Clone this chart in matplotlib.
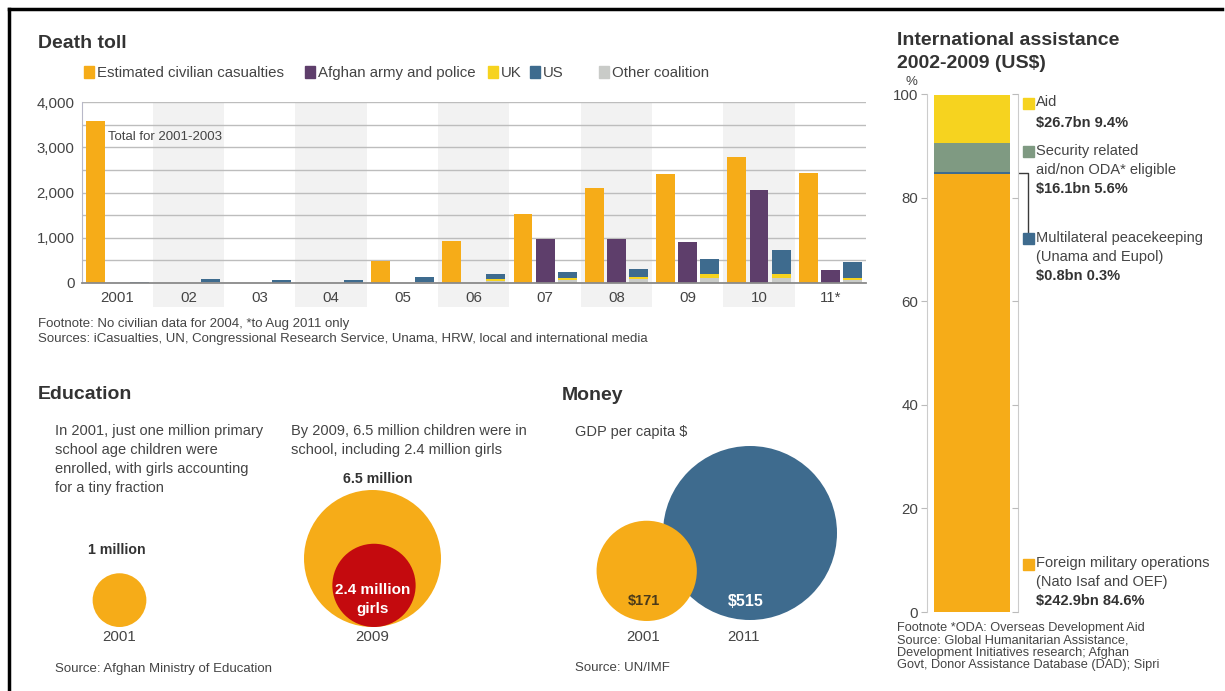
import matplotlib
matplotlib.use("Agg")
import matplotlib.pyplot as plt
import numpy as np
from matplotlib.patches import Rectangle, Circle
from matplotlib.lines import Line2D

plt.rcParams['font.family'] = ['Liberation Sans', 'DejaVu Sans']

# ---------------- data ----------------
year_labels = ["2001", "02", "03", "04", "05", "06", "07", "08", "09", "10", "11*"]
civilian = [3575, 0, 0, 0, 480, 925, 1525, 2100, 2400, 2775, 2420]
afghan = [0, 0, 0, 0, 0, 0, 975, 965, 910, 2050, 280]
other_coal = [0, 15, 10, 10, 30, 50, 75, 90, 105, 100, 60]
uk = [0, 3, 0, 1, 1, 39, 42, 51, 100, 105, 40]
us = [12, 70, 50, 50, 110, 100, 130, 160, 330, 515, 365]
death_yticks = [0, 1000, 2000, 3000, 4000]

assist_labels = ["Foreign military operations", "Multilateral peacekeeping",
                 "Security related", "Aid"]
assist_pct = [84.6, 0.3, 5.6, 9.4]
assist_bn = [242.9, 0.8, 16.1, 26.7]
assist_yticks = [0, 20, 40, 60, 80, 100]

edu_years = ["2001", "2009"]
edu_total = [1.0, 6.5]      # million children enrolled
edu_girls_2009 = 2.4        # million girls

gdp_years = ["2001", "2011"]
gdp_values = [171, 515]     # GDP per capita $

# ---------------- style ----------------
C_CIV = "#F6AC18"
C_AFG = "#5E3E6B"
C_UK = "#F6D31F"
C_US = "#3E6B8E"
C_OTH = "#C9CBC8"
C_SEC = "#7F9A82"
C_RED = "#C40A0E"
C_TXT = "#444444"
C_TTL = "#333333"
C_GRID = "#BDBDBD"
C_SHADE = "#F2F2F2"

F_TITLE = 14
F_BODY = 10.8
F_SMALL = 9.5
F_TICK = 10.8

W, H = 1225, 691
fig = plt.figure(figsize=(W / 100, H / 100), dpi=100)
fig.patch.set_facecolor("white")

# overlay axes in pixel coordinates for text / circles
ov = fig.add_axes([0, 0, 1, 1], zorder=0)
ov.set_xlim(0, W)
ov.set_ylim(H, 0)
ov.axis("off")


def T(x, y, s, size=F_BODY, weight="normal", color=C_TXT, ha="left", va="center", z=5, **kw):
    ov.text(x, y, s, fontsize=size, fontweight=weight, color=color, ha=ha, va=va, zorder=z, **kw)


def px2fig(x0, y0, x1, y1):
    return [x0 / W, 1 - y1 / H, (x1 - x0) / W, (y1 - y0) / H]


# frame lines
ov.add_line(Line2D([9, 1222], [9, 9], color="black", lw=2.5, zorder=10))
ov.add_line(Line2D([9, 9], [9, H], color="black", lw=2.5, zorder=10))

# ---------------- Death toll ----------------
T(38, 43, "Death toll", size=F_TITLE, weight="bold", color=C_TTL)
legend_items = [(84, "Estimated civilian casualties", C_CIV),
                (305, "Afghan army and police", C_AFG),
                (488, "UK", C_UK),
                (530, "US", C_US),
                (599, "Other coalition", C_OTH)]
for x, lab, col in legend_items:
    ov.add_patch(Rectangle((x, 66), 10, 12, color=col, zorder=5))
    T(x + 13, 72.5, lab, size=F_BODY)

ax = fig.add_axes(px2fig(81.5, 102, 866, 283), zorder=2)
xs = np.arange(len(year_labels))
bw = 0.265
off = 0.31
ax.bar(xs - off, civilian, width=bw, color=C_CIV, zorder=3)
ax.bar(xs, afghan, width=bw, color=C_AFG, zorder=3)
b1 = np.array(other_coal)
b2 = b1 + np.array(uk)
ax.bar(xs + off, other_coal, width=bw, color=C_OTH, zorder=3)
ax.bar(xs + off, uk, bottom=b1, width=bw, color=C_UK, zorder=3)
ax.bar(xs + off, us, bottom=b2, width=bw, color=C_US, zorder=3)
for i in range(1, len(xs), 2):
    ax.axvspan(i - 0.5, i + 0.5, ymin=-0.135, ymax=1, color=C_SHADE, zorder=0,
               clip_on=False, lw=0)
ax.set_xlim(-0.5, len(xs) - 0.5)
ax.set_ylim(0, 4000)
ax.set_yticks(death_yticks)
ax.set_yticklabels([f"{v:,}" for v in death_yticks])
ax.set_yticks(np.arange(0, 4001, 500), minor=True)
ax.grid(axis="y", which="both", color=C_GRID, lw=1.0, zorder=1)
ax.set_axisbelow(True)
ax.set_xticks(xs)
ax.set_xticklabels(year_labels)
ax.tick_params(axis="y", length=0, pad=5, labelsize=F_TICK, labelcolor=C_TXT, which="both")
ax.tick_params(axis="x", length=0, pad=6, labelsize=F_TICK, labelcolor=C_TXT)
ax.patch.set_alpha(0)
for s in ["top", "right"]:
    ax.spines[s].set_visible(False)
ax.spines["left"].set_color("#B8B8C8")
ax.spines["bottom"].set_color("#8A8A8A")
ax.spines["bottom"].set_linewidth(1.3)
ax.spines["bottom"].set_zorder(4)
ax.text(-0.5 + 26.5 / 71.3, 3220, "Total for 2001-2003", fontsize=F_SMALL, color=C_TXT,
        va="center", ha="left", zorder=4)

T(38, 324, "Footnote: No civilian data for 2004, *to Aug 2011 only", size=F_SMALL)
T(38, 339, "Sources: iCasualties, UN, Congressional Research Service, Unama, HRW, local and international media", size=F_SMALL)

# ---------------- International assistance ----------------
T(897, 40, "International assistance", size=F_TITLE, weight="bold", color=C_TTL)
T(897, 63, "2002-2009 (US$)", size=F_TITLE, weight="bold", color=C_TTL)
T(911, 82, "%", size=9.5, ha="center")

ax2 = fig.add_axes(px2fig(926.7, 94, 1017.7, 612), zorder=2)
assist_colors = [C_CIV, C_US, C_SEC, C_UK]
bottom = 0
for v, c in zip(assist_pct, assist_colors):
    ax2.bar([0.5], [v], bottom=bottom, width=0.83, color=c, lw=0, zorder=2)
    bottom += v
ax2.set_xlim(0, 1)
ax2.set_ylim(0, 100)
ax2.set_xticks([])
ax2.set_yticks(assist_yticks)
ax2.tick_params(axis="y", length=4, width=0.8, color="#BBBBBB", pad=2,
                labelsize=F_TICK, labelcolor=C_TXT)
for s in ["top", "bottom"]:
    ax2.spines[s].set_visible(False)
for s in ["left", "right"]:
    ax2.spines[s].set_color("#CCCCCC")
axr = ax2.twinx()
axr.set_ylim(0, 100)
axr.set_yticks(assist_yticks)
axr.tick_params(axis="y", direction="in", length=4, width=0.8, color="#BBBBBB", labelright=False)
for s in ["top", "bottom", "left", "right"]:
    axr.spines[s].set_visible(False)

# leader line for multilateral peacekeeping
ymid = assist_pct[0] + assist_pct[1] / 2
p_right = ax2.transData.transform((0.915, ymid))
xr, yr = ov.transData.inverted().transform(p_right)
ov.add_line(Line2D([xr, 1027.5, 1027.5], [yr, yr, 233], color="#3A3A3A", lw=1.0, zorder=6))


def leg_square(y, col):
    ov.add_patch(Rectangle((1022.5, y - 5.5), 11, 11, color=col, zorder=7))


F_R = 10.5
leg_square(103, C_UK)
T(1036, 102, "Aid", size=F_R)
T(1036, 123, f"${assist_bn[3]}bn {assist_pct[3]}%", size=F_R, weight="bold", color=C_TTL)

leg_square(151, C_SEC)
T(1036, 151, "Security related", size=F_R)
T(1036, 170, "aid/non ODA* eligible", size=F_R)
T(1036, 189, f"${assist_bn[2]}bn {assist_pct[2]}%", size=F_R, weight="bold", color=C_TTL)

leg_square(238, C_US)
T(1036, 238, "Multilateral peacekeeping", size=F_R)
T(1036, 257, "(Unama and Eupol)", size=F_R)
T(1036, 276, f"${assist_bn[1]}bn {assist_pct[1]}%", size=F_R, weight="bold", color=C_TTL)

leg_square(564, C_CIV)
T(1036, 563, "Foreign military operations", size=F_R)
T(1036, 582, "(Nato Isaf and OEF)", size=F_R)
T(1036, 601, f"${assist_bn[0]}bn {assist_pct[0]}%", size=F_R, weight="bold", color=C_TTL)

for i, s in enumerate(["Footnote *ODA: Overseas Development Aid",
                       "Source: Global Humanitarian Assistance,",
                       "Development Initiatives research; Afghan",
                       "Govt, Donor Assistance Database (DAD); Sipri"]):
    T(897, 628 + i * 12.3, s, size=9.2)

# ---------------- Education ----------------
T(38, 394, "Education", size=F_TITLE, weight="bold", color=C_TTL)
for i, s in enumerate(["In 2001, just one million primary", "school age children were",
                       "enrolled, with girls accounting", "for a tiny fraction"]):
    T(55, 431 + i * 19, s, size=10.5)
for i, s in enumerate(["By 2009, 6.5 million children were in",
                       "school, including 2.4 million girls"]):
    T(291, 431 + i * 19, s, size=10.5)

k_edu = 68.5 / np.sqrt(edu_total[1])   # px radius per sqrt(million)
base_edu = 627                          # common bottom of circles
edu_cx = [119.5, 372.5]
for cx, v in zip(edu_cx, edu_total):
    r = k_edu * np.sqrt(v)
    ov.add_patch(Circle((cx, base_edu - r), r, color=C_CIV, zorder=3, lw=0))
rg = k_edu * np.sqrt(edu_girls_2009)
ov.add_patch(Circle((edu_cx[1] + 1.5, base_edu - rg), rg, color=C_RED, zorder=4, lw=0))
T(edu_cx[1], 590, "2.4 million", size=11, weight="bold", color="white", ha="center")
T(edu_cx[1], 609, "girls", size=11, weight="bold", color="white", ha="center")
T(117, 550, "1 million", size=10.2, weight="bold", color=C_TTL, ha="center")
T(378, 479, "6.5 million", size=10.2, weight="bold", color=C_TTL, ha="center")
for cx, y in zip(edu_cx, edu_years):
    T(cx, 637, y, size=F_TICK, ha="center")
T(55, 669, "Source: Afghan Ministry of Education", size=F_SMALL)

# ---------------- Money ----------------
T(562, 395, "Money", size=F_TITLE, weight="bold", color=C_TTL)
T(575, 432, "GDP per capita $", size=10.5)
k_gdp = 87 / np.sqrt(gdp_values[1])
gdp_cx = [646.7, 750]
gdp_bottom = [621, 620]
gdp_cols = [C_CIV, C_US]
gdp_z = [4, 3]
for cx, v, yb, c, z in zip(gdp_cx, gdp_values, gdp_bottom, gdp_cols, gdp_z):
    r = k_gdp * np.sqrt(v)
    ov.add_patch(Circle((cx, yb - r), r, color=c, zorder=z, lw=0))
T(644, 601, f"${gdp_values[0]}", size=10.5, weight="bold", color="#4A3A1A", ha="center")
T(746, 601, f"${gdp_values[1]}", size=11.5, weight="bold", color="white", ha="center")
T(643, 637, gdp_years[0], size=F_TICK, ha="center")
T(744, 637, gdp_years[1], size=F_TICK, ha="center")
T(575, 668, "Source: UN/IMF", size=F_SMALL)

fig.savefig("out.png", dpi=100, facecolor="white")
